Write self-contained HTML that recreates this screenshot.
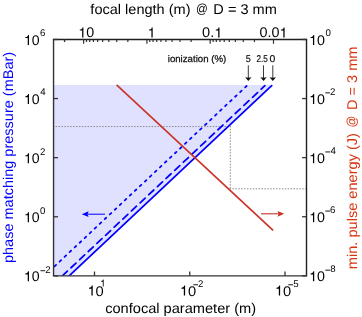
<!DOCTYPE html>
<html><head><meta charset="utf-8"><style>
html,body{margin:0;padding:0;background:#fff;}
svg{display:block;will-change:transform;}
text{font-family:"Liberation Sans", sans-serif;text-rendering:geometricPrecision;white-space:pre;}
</style></head><body>
<svg width="362" height="317" viewBox="0 0 362 317">
<defs><clipPath id="pc"><rect x="53.55" y="0" width="252.95" height="275.85"/></clipPath></defs>
<rect x="0" y="0" width="362" height="317" fill="#fff"/>
<polygon points="53.55,84.9 272.2,84.9 69.16485623003189,275.85 53.55,275.85" fill="#e0e0ff"/>
<line x1="55.55" y1="126.55" x2="231" y2="126.55" stroke="#8a8a8a" stroke-width="1" stroke-dasharray="1.5 1.41"/>
<line x1="230.3" y1="125.85" x2="230.3" y2="189.3" stroke="#8a8a8a" stroke-width="1" stroke-dasharray="1.5 1.41"/>
<line x1="229.55" y1="188.8" x2="306.5" y2="188.8" stroke="#8a8a8a" stroke-width="1" stroke-dasharray="1.5 1.41"/>
<g clip-path="url(#pc)">
<line x1="247.40" y1="85.20" x2="53.55" y2="267.23" stroke="#0000ff" stroke-width="1.75" stroke-linecap="round" stroke-dasharray="2.1 4.78" stroke-dashoffset="5.88"/>
<line x1="264.87" y1="85.70" x2="62.36" y2="275.85" stroke="#0000ff" stroke-width="1.75" stroke-linecap="round" stroke-dasharray="6.85 5.01" stroke-dashoffset="1.815"/>
<line x1="271.70" y1="85.67" x2="69.16" y2="275.85" stroke="#0000ff" stroke-width="1.75" stroke-linecap="round"/>
</g>
<line x1="116.60" y1="84.80" x2="273.10" y2="230.40" stroke="#cc3328" stroke-width="1.65" stroke-linecap="butt"/>
<line x1="88" y1="214.2" x2="105" y2="214.2" stroke="#0000ff" stroke-width="1.0"/>
<path d="M81.8,214.2 L88.6,211.3 L87.6,214.2 L88.6,217.1 Z" fill="#0000ff"/>
<line x1="261" y1="213.8" x2="279" y2="213.8" stroke="#cc3328" stroke-width="1.1"/>
<path d="M284.2,213.8 L277.6,210.9 L278.6,213.8 L277.6,216.7 Z" fill="#cc3328"/>
<line x1="248.3" y1="65.3" x2="248.3" y2="78" stroke="#3a3a3a" stroke-width="1"/>
<path d="M248.3,81.0 L245.10000000000002,77.2 L248.3,77.8 L251.5,77.2 Z" fill="#111"/>
<line x1="263.5" y1="65.3" x2="263.5" y2="78" stroke="#3a3a3a" stroke-width="1"/>
<path d="M263.5,81.0 L260.3,77.2 L263.5,77.8 L266.7,77.2 Z" fill="#111"/>
<line x1="272.8" y1="65.3" x2="272.8" y2="78" stroke="#3a3a3a" stroke-width="1"/>
<path d="M272.8,81.0 L269.6,77.2 L272.8,77.8 L276.0,77.2 Z" fill="#111"/>
<line x1="52.849999999999994" y1="39.45" x2="307.2" y2="39.45" stroke="#1e1e1e" stroke-width="1.4"/>
<line x1="306.5" y1="39.45" x2="306.5" y2="275.85" stroke="#1e1e1e" stroke-width="1.4"/>
<line x1="53.55" y1="39.45" x2="53.55" y2="275.85" stroke="#333333" stroke-width="1.4"/>
<line x1="52.849999999999994" y1="275.85" x2="307.2" y2="275.85" stroke="#333333" stroke-width="1.4"/>
<line x1="53.55" y1="39.45" x2="57.949999999999996" y2="39.45" stroke="#333333" stroke-width="1.3"/>
<line x1="306.5" y1="39.45" x2="302.1" y2="39.45" stroke="#333333" stroke-width="1.3"/>
<line x1="53.55" y1="98.55" x2="57.949999999999996" y2="98.55" stroke="#333333" stroke-width="1.3"/>
<line x1="306.5" y1="98.55" x2="302.1" y2="98.55" stroke="#333333" stroke-width="1.3"/>
<line x1="53.55" y1="157.65" x2="57.949999999999996" y2="157.65" stroke="#333333" stroke-width="1.3"/>
<line x1="306.5" y1="157.65" x2="302.1" y2="157.65" stroke="#333333" stroke-width="1.3"/>
<line x1="53.55" y1="216.75" x2="57.949999999999996" y2="216.75" stroke="#333333" stroke-width="1.3"/>
<line x1="306.5" y1="216.75" x2="302.1" y2="216.75" stroke="#333333" stroke-width="1.3"/>
<line x1="53.55" y1="275.85" x2="57.949999999999996" y2="275.85" stroke="#333333" stroke-width="1.3"/>
<line x1="306.5" y1="275.85" x2="302.1" y2="275.85" stroke="#333333" stroke-width="1.3"/>
<line x1="94.50" y1="275.85" x2="94.50" y2="271.55" stroke="#333333" stroke-width="1.3"/>
<line x1="189.75" y1="275.85" x2="189.75" y2="271.55" stroke="#333333" stroke-width="1.3"/>
<line x1="285.00" y1="275.85" x2="285.00" y2="271.55" stroke="#333333" stroke-width="1.3"/>
<line x1="83.60" y1="39.45" x2="83.60" y2="43.75" stroke="#333333" stroke-width="1.2"/>
<line x1="64.54" y1="39.45" x2="64.54" y2="42.050000000000004" stroke="#333333" stroke-width="1.2"/>
<line x1="146.90" y1="39.45" x2="146.90" y2="43.75" stroke="#333333" stroke-width="1.2"/>
<line x1="127.84" y1="39.45" x2="127.84" y2="42.050000000000004" stroke="#333333" stroke-width="1.2"/>
<line x1="116.70" y1="39.45" x2="116.70" y2="42.050000000000004" stroke="#333333" stroke-width="1.2"/>
<line x1="108.79" y1="39.45" x2="108.79" y2="42.050000000000004" stroke="#333333" stroke-width="1.2"/>
<line x1="102.66" y1="39.45" x2="102.66" y2="42.050000000000004" stroke="#333333" stroke-width="1.2"/>
<line x1="97.64" y1="39.45" x2="97.64" y2="42.050000000000004" stroke="#333333" stroke-width="1.2"/>
<line x1="93.41" y1="39.45" x2="93.41" y2="42.050000000000004" stroke="#333333" stroke-width="1.2"/>
<line x1="89.73" y1="39.45" x2="89.73" y2="42.050000000000004" stroke="#333333" stroke-width="1.2"/>
<line x1="86.50" y1="39.45" x2="86.50" y2="42.050000000000004" stroke="#333333" stroke-width="1.2"/>
<line x1="210.20" y1="39.45" x2="210.20" y2="43.75" stroke="#333333" stroke-width="1.2"/>
<line x1="191.14" y1="39.45" x2="191.14" y2="42.050000000000004" stroke="#333333" stroke-width="1.2"/>
<line x1="180.00" y1="39.45" x2="180.00" y2="42.050000000000004" stroke="#333333" stroke-width="1.2"/>
<line x1="172.09" y1="39.45" x2="172.09" y2="42.050000000000004" stroke="#333333" stroke-width="1.2"/>
<line x1="165.96" y1="39.45" x2="165.96" y2="42.050000000000004" stroke="#333333" stroke-width="1.2"/>
<line x1="160.94" y1="39.45" x2="160.94" y2="42.050000000000004" stroke="#333333" stroke-width="1.2"/>
<line x1="156.71" y1="39.45" x2="156.71" y2="42.050000000000004" stroke="#333333" stroke-width="1.2"/>
<line x1="153.03" y1="39.45" x2="153.03" y2="42.050000000000004" stroke="#333333" stroke-width="1.2"/>
<line x1="149.80" y1="39.45" x2="149.80" y2="42.050000000000004" stroke="#333333" stroke-width="1.2"/>
<line x1="273.50" y1="39.45" x2="273.50" y2="43.75" stroke="#333333" stroke-width="1.2"/>
<line x1="254.44" y1="39.45" x2="254.44" y2="42.050000000000004" stroke="#333333" stroke-width="1.2"/>
<line x1="243.30" y1="39.45" x2="243.30" y2="42.050000000000004" stroke="#333333" stroke-width="1.2"/>
<line x1="235.39" y1="39.45" x2="235.39" y2="42.050000000000004" stroke="#333333" stroke-width="1.2"/>
<line x1="229.26" y1="39.45" x2="229.26" y2="42.050000000000004" stroke="#333333" stroke-width="1.2"/>
<line x1="224.24" y1="39.45" x2="224.24" y2="42.050000000000004" stroke="#333333" stroke-width="1.2"/>
<line x1="220.01" y1="39.45" x2="220.01" y2="42.050000000000004" stroke="#333333" stroke-width="1.2"/>
<line x1="216.33" y1="39.45" x2="216.33" y2="42.050000000000004" stroke="#333333" stroke-width="1.2"/>
<line x1="213.10" y1="39.45" x2="213.10" y2="42.050000000000004" stroke="#333333" stroke-width="1.2"/>
<line x1="64.54" y1="39.45" x2="64.54" y2="42.050000000000004" stroke="#333333" stroke-width="1.2"/>
<text x="90.39" y="13.60" font-size="14.1" fill="#000" textLength="104.19" lengthAdjust="spacingAndGlyphs">focal length (m) </text>
<text x="0" y="0" text-anchor="middle" font-size="14.1" fill="#000" transform="translate(201.96,12.80) scale(0.825,0.93)">@</text>
<text x="209.33" y="13.60" font-size="14.1" fill="#000" textLength="67.42" lengthAdjust="spacingAndGlyphs"> D = 3 mm</text>
<path d="M0.361,0 L0.361,-0.709 L0.297,-0.709 C0.278,-0.605 0.232,-0.568 0.108,-0.556 L0.108,-0.490 L0.273,-0.490 L0.273,0 Z" fill="#000" transform="translate(78.26,37.40) scale(14.297,14.100)"/>
<text x="86.21" y="37.40" font-size="14.1" fill="#000" textLength="7.95" lengthAdjust="spacingAndGlyphs">0</text>
<path d="M0.361,0 L0.361,-0.709 L0.297,-0.709 C0.278,-0.605 0.232,-0.568 0.108,-0.556 L0.108,-0.490 L0.273,-0.490 L0.273,0 Z" fill="#000" transform="translate(147.58,37.40) scale(14.100,14.100)"/>
<text x="202.03" y="37.40" font-size="14.1" fill="#000" textLength="12.19" lengthAdjust="spacingAndGlyphs">0.</text>
<path d="M0.361,0 L0.361,-0.709 L0.297,-0.709 C0.278,-0.605 0.232,-0.568 0.108,-0.556 L0.108,-0.490 L0.273,-0.490 L0.273,0 Z" fill="#000" transform="translate(214.22,37.40) scale(14.620,14.100)"/>
<text x="259.44" y="37.40" font-size="14.1" fill="#000" textLength="19.97" lengthAdjust="spacingAndGlyphs">0.0</text>
<path d="M0.361,0 L0.361,-0.709 L0.297,-0.709 C0.278,-0.605 0.232,-0.568 0.108,-0.556 L0.108,-0.490 L0.273,-0.490 L0.273,0 Z" fill="#000" transform="translate(279.41,37.40) scale(14.369,14.100)"/>
<path d="M0.361,0 L0.361,-0.709 L0.297,-0.709 C0.278,-0.605 0.232,-0.568 0.108,-0.556 L0.108,-0.490 L0.273,-0.490 L0.273,0 Z" fill="#000" transform="translate(23.88,44.95) scale(14.090,14.100)"/>
<text x="31.71" y="44.95" font-size="14.1" fill="#000" textLength="7.84" lengthAdjust="spacingAndGlyphs">0</text>
<text x="40.01" y="36.05" font-size="9.7" fill="#000">6</text>
<path d="M0.361,0 L0.361,-0.709 L0.297,-0.709 C0.278,-0.605 0.232,-0.568 0.108,-0.556 L0.108,-0.490 L0.273,-0.490 L0.273,0 Z" fill="#000" transform="translate(23.88,104.05) scale(14.090,14.100)"/>
<text x="31.71" y="104.05" font-size="14.1" fill="#000" textLength="7.84" lengthAdjust="spacingAndGlyphs">0</text>
<text x="40.28" y="95.35" font-size="9.7" fill="#000">4</text>
<path d="M0.361,0 L0.361,-0.709 L0.297,-0.709 C0.278,-0.605 0.232,-0.568 0.108,-0.556 L0.108,-0.490 L0.273,-0.490 L0.273,0 Z" fill="#000" transform="translate(23.88,163.15) scale(14.090,14.100)"/>
<text x="31.71" y="163.15" font-size="14.1" fill="#000" textLength="7.84" lengthAdjust="spacingAndGlyphs">0</text>
<text x="40.01" y="154.65" font-size="9.7" fill="#000">2</text>
<path d="M0.361,0 L0.361,-0.709 L0.297,-0.709 C0.278,-0.605 0.232,-0.568 0.108,-0.556 L0.108,-0.490 L0.273,-0.490 L0.273,0 Z" fill="#000" transform="translate(23.88,222.25) scale(14.090,14.100)"/>
<text x="31.71" y="222.25" font-size="14.1" fill="#000" textLength="7.84" lengthAdjust="spacingAndGlyphs">0</text>
<text x="40.12" y="213.75" font-size="9.7" fill="#000">0</text>
<path d="M0.361,0 L0.361,-0.709 L0.297,-0.709 C0.278,-0.605 0.232,-0.568 0.108,-0.556 L0.108,-0.490 L0.273,-0.490 L0.273,0 Z" fill="#000" transform="translate(23.88,281.35) scale(14.090,14.100)"/>
<text x="31.71" y="281.35" font-size="14.1" fill="#000" textLength="7.84" lengthAdjust="spacingAndGlyphs">0</text>
<rect x="40.50" y="270.30" width="4.7" height="0.9" fill="#000"/>
<text x="45.31" y="272.95" font-size="9.7" fill="#000">2</text>
<path d="M0.361,0 L0.361,-0.709 L0.297,-0.709 C0.278,-0.605 0.232,-0.568 0.108,-0.556 L0.108,-0.490 L0.273,-0.490 L0.273,0 Z" fill="#000" transform="translate(309.06,44.95) scale(14.297,14.100)"/>
<text x="317.01" y="44.95" font-size="14.1" fill="#000" textLength="7.95" lengthAdjust="spacingAndGlyphs">0</text>
<text x="325.62" y="35.85" font-size="9.7" fill="#000">0</text>
<path d="M0.361,0 L0.361,-0.709 L0.297,-0.709 C0.278,-0.605 0.232,-0.568 0.108,-0.556 L0.108,-0.490 L0.273,-0.490 L0.273,0 Z" fill="#000" transform="translate(309.06,104.05) scale(14.297,14.100)"/>
<text x="317.01" y="104.05" font-size="14.1" fill="#000" textLength="7.95" lengthAdjust="spacingAndGlyphs">0</text>
<rect x="325.30" y="92.40" width="4.7" height="0.9" fill="#000"/>
<text x="330.11" y="95.05" font-size="9.7" fill="#000">2</text>
<path d="M0.361,0 L0.361,-0.709 L0.297,-0.709 C0.278,-0.605 0.232,-0.568 0.108,-0.556 L0.108,-0.490 L0.273,-0.490 L0.273,0 Z" fill="#000" transform="translate(309.06,163.15) scale(14.297,14.100)"/>
<text x="317.01" y="163.15" font-size="14.1" fill="#000" textLength="7.95" lengthAdjust="spacingAndGlyphs">0</text>
<rect x="325.30" y="151.50" width="4.7" height="0.9" fill="#000"/>
<text x="330.38" y="154.15" font-size="9.7" fill="#000">4</text>
<path d="M0.361,0 L0.361,-0.709 L0.297,-0.709 C0.278,-0.605 0.232,-0.568 0.108,-0.556 L0.108,-0.490 L0.273,-0.490 L0.273,0 Z" fill="#000" transform="translate(309.06,222.25) scale(14.297,14.100)"/>
<text x="317.01" y="222.25" font-size="14.1" fill="#000" textLength="7.95" lengthAdjust="spacingAndGlyphs">0</text>
<rect x="325.30" y="210.60" width="4.7" height="0.9" fill="#000"/>
<text x="330.11" y="213.25" font-size="9.7" fill="#000">6</text>
<path d="M0.361,0 L0.361,-0.709 L0.297,-0.709 C0.278,-0.605 0.232,-0.568 0.108,-0.556 L0.108,-0.490 L0.273,-0.490 L0.273,0 Z" fill="#000" transform="translate(309.06,281.35) scale(14.297,14.100)"/>
<text x="317.01" y="281.35" font-size="14.1" fill="#000" textLength="7.95" lengthAdjust="spacingAndGlyphs">0</text>
<rect x="325.30" y="269.70" width="4.7" height="0.9" fill="#000"/>
<text x="330.18" y="272.35" font-size="9.7" fill="#000">8</text>
<path d="M0.361,0 L0.361,-0.709 L0.297,-0.709 C0.278,-0.605 0.232,-0.568 0.108,-0.556 L0.108,-0.490 L0.273,-0.490 L0.273,0 Z" fill="#000" transform="translate(87.41,295.60) scale(14.711,14.100)"/>
<text x="95.59" y="295.60" font-size="14.1" fill="#000" textLength="8.18" lengthAdjust="spacingAndGlyphs">0</text>
<path d="M0.361,0 L0.361,-0.709 L0.297,-0.709 C0.278,-0.605 0.232,-0.568 0.108,-0.556 L0.108,-0.490 L0.273,-0.490 L0.273,0 Z" fill="#000" transform="translate(179.81,295.60) scale(14.711,14.100)"/>
<text x="187.99" y="295.60" font-size="14.1" fill="#000" textLength="8.18" lengthAdjust="spacingAndGlyphs">0</text>
<path d="M0.361,0 L0.361,-0.709 L0.297,-0.709 C0.278,-0.605 0.232,-0.568 0.108,-0.556 L0.108,-0.490 L0.273,-0.490 L0.273,0 Z" fill="#000" transform="translate(274.81,295.60) scale(14.711,14.100)"/>
<text x="282.99" y="295.60" font-size="14.1" fill="#000" textLength="8.18" lengthAdjust="spacingAndGlyphs">0</text>
<path d="M0.361,0 L0.361,-0.709 L0.297,-0.709 C0.278,-0.605 0.232,-0.568 0.108,-0.556 L0.108,-0.490 L0.273,-0.490 L0.273,0 Z" fill="#000" transform="translate(100.15,286.50) scale(9.700,9.700)"/>
<rect x="193.30" y="284.35" width="4.7" height="0.9" fill="#000"/>
<text x="198.11" y="287.00" font-size="9.7" fill="#000">2</text>
<rect x="288.30" y="284.35" width="4.7" height="0.9" fill="#000"/>
<text x="293.21" y="287.00" font-size="9.7" fill="#000">5</text>
<text x="105.18" y="313.20" font-size="14.1" fill="#000" textLength="150.93" lengthAdjust="spacingAndGlyphs">confocal parameter (m)</text>
<text x="167.75" y="61.80" font-size="9.6" fill="#111" textLength="58.44" lengthAdjust="spacingAndGlyphs" stroke="#111" stroke-width="0.25">ionization (%)</text>
<text x="245.64" y="61.60" font-size="9.9" fill="#111" textLength="5.04" lengthAdjust="spacingAndGlyphs" stroke="#111" stroke-width="0.2">5</text>
<text x="256.49" y="61.60" font-size="9.9" fill="#111" textLength="11.25" lengthAdjust="spacingAndGlyphs" stroke="#111" stroke-width="0.2">2.5</text>
<text x="269.49" y="61.60" font-size="9.9" fill="#111" textLength="5.82" lengthAdjust="spacingAndGlyphs" stroke="#111" stroke-width="0.2">0</text>
<g transform="translate(13.3,0) rotate(-90)"><text x="-263.03" y="0.00" font-size="14.1" fill="#0000ff" textLength="211.13" lengthAdjust="spacingAndGlyphs">phase matching pressure (mBar)</text></g>
<g transform="translate(357.1,0) rotate(-90)"><text x="-269.17" y="0.00" font-size="14.1" fill="#d8350f" textLength="140.18" lengthAdjust="spacingAndGlyphs">min. pulse energy (J) </text><text x="0" y="0" text-anchor="middle" font-size="14.1" fill="#d8350f" transform="translate(-121.59,-0.80) scale(0.827,0.93)">@</text><text x="-114.18" y="0.00" font-size="14.1" fill="#d8350f" textLength="67.65" lengthAdjust="spacingAndGlyphs"> D = 3 mm</text></g>
</svg>
</body></html>
